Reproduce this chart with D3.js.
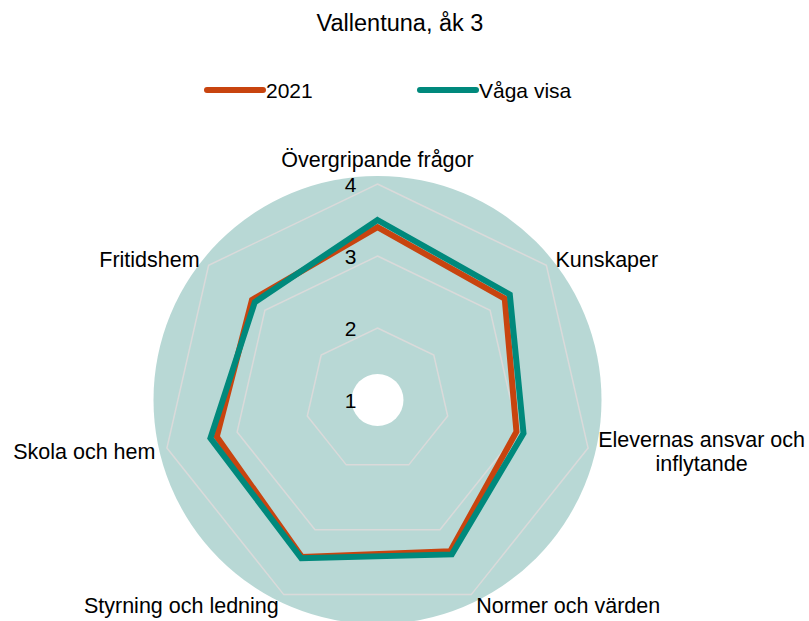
<!DOCTYPE html>
<html lang="sv">

<head>
  <meta charset="utf-8">
  <title>Vallentuna, åk 3</title>
  <script type="text/javascript" src="https://d3js.org/d3.v7.min.js"></script>
  <style>
    body { margin: 0; background: #fff; }
    text { font-family: "Liberation Sans", Arial, sans-serif; fill: #000; }
  </style>
</head>

<body>
  <div id="my_dataviz"></div>

  <script type="text/javascript">
    // chart data
    var categories = ["Övergripande frågor", "Kunskaper", "Elevernas ansvar och|inflytande",
      "Normer och värden", "Styrning och ledning", "Skola och hem", "Fritidshem"];
    var seriesNames = ["2021", "Våga visa"];
    var values2021 = [3.40, 3.26, 2.98, 3.33, 3.42, 3.29, 3.23];
    var valuesVagaVisa = [3.50, 3.35, 3.08, 3.38, 3.44, 3.38, 3.18];
    var tickValues = [1, 2, 3, 4];

    var width = 809, height = 621;
    var cx = 377.5, cy = 400;
    var colors = ["#c8440f", "#00897c"];

    var svg = d3.select("#my_dataviz")
      .append("svg")
      .attr("width", width)
      .attr("height", height);

    var r = d3.scaleLinear().domain([1, 4]).range([0, 216]);
    var angle = d3.scalePoint().domain(d3.range(categories.length + 1)).range([0, 2 * Math.PI]);

    function pt(i, v) {
      var a = angle(i);
      return [cx + r(v) * Math.sin(a), cy - r(v) * Math.cos(a)];
    }

    // title
    svg.append("text")
      .attr("x", 400).attr("y", 31)
      .attr("text-anchor", "middle")
      .style("font-size", "23.5px")
      .text("Vallentuna, åk 3");

    // legend
    var legendX = [207, 420];
    seriesNames.forEach(function (name, k) {
      svg.append("line")
        .attr("x1", legendX[k]).attr("x2", legendX[k] + 56)
        .attr("y1", 90).attr("y2", 90)
        .attr("stroke", colors[k])
        .attr("stroke-width", 6)
        .attr("stroke-linecap", "round");
      svg.append("text")
        .attr("x", legendX[k] + 59).attr("y", 97.5)
        .style("font-size", "21px")
        .text(name);
    });

    // plot area background
    svg.append("circle")
      .attr("cx", cx).attr("cy", cy)
      .attr("r", 224)
      .attr("fill", "#b8d8d5");

    // grid heptagons
    var gridLine = d3.line();
    tickValues.slice(1).forEach(function (t) {
      var ring = categories.map(function (c, i) { return pt(i, t); });
      svg.append("path")
        .attr("d", gridLine(ring) + "Z")
        .attr("fill", "none")
        .attr("stroke", "#dadada")
        .attr("stroke-width", 1.5);
    });

    // center hole
    svg.append("circle")
      .attr("cx", cx).attr("cy", cy)
      .attr("r", 26)
      .attr("fill", "#fff");

    // tick labels
    svg.selectAll(".tick")
      .data(tickValues)
      .enter()
      .append("text")
      .attr("class", "tick")
      .attr("x", cx - 21)
      .attr("y", function (d) { return cy - r(d) + 8; })
      .attr("text-anchor", "end")
      .style("font-size", "21px")
      .text(function (d) { return d; });

    // series
    [values2021, valuesVagaVisa].forEach(function (vals, k) {
      var pts = vals.map(function (v, i) { return pt(i, v); });
      svg.append("path")
        .attr("d", gridLine(pts) + "Z")
        .attr("fill", "none")
        .attr("stroke", colors[k])
        .attr("stroke-width", 6)
        .attr("stroke-linejoin", "miter");
    });

    // category labels
    categories.forEach(function (c, i) {
      var a = angle(i);
      var p = pt(i, 4);
      var s = Math.sin(a), co = Math.cos(a);
      var lines = c.split("|");
      var anchor = "middle", x = p[0], y;
      if (Math.abs(s) < 0.1) {
        y = p[1] - 17;
      } else {
        anchor = s > 0 ? "start" : "end";
        var gap = 9;
        if (co > 0.5) y = p[1] + 2;
        else if (co > -0.5) { y = p[1] + 11 - (lines.length - 1) * 12; gap = 11.5; }
        else { y = p[1] + 18; gap = 5; }
        x = p[0] + (s > 0 ? gap : -gap);
      }
      var t = svg.append("text")
        .attr("x", x).attr("y", y)
        .attr("text-anchor", anchor)
        .style("font-size", "21.5px");
      if (lines.length > 1) {
        var w = 204;
        t.attr("text-anchor", "middle");
        lines.forEach(function (ln, j) {
          t.append("tspan")
            .attr("x", x + w / 2)
            .attr("dy", j === 0 ? 0 : 24)
            .text(ln);
        });
      } else {
        t.text(c);
      }
    });
  </script>
</body>

</html>
